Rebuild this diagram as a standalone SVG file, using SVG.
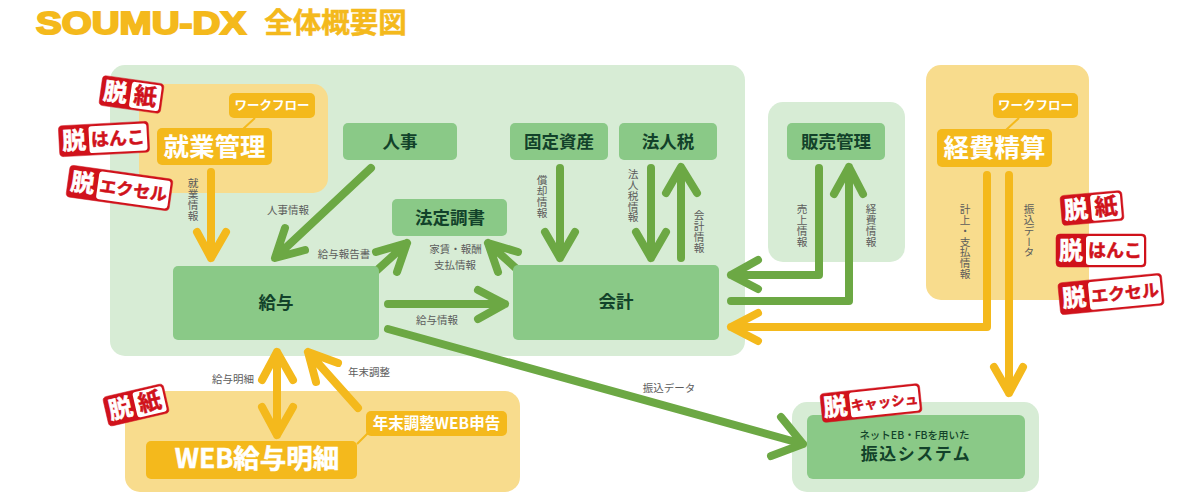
<svg xmlns="http://www.w3.org/2000/svg" width="1200" height="500" viewBox="0 0 1200 500">
<style>
text{font-family:"Noto Sans CJK JP","Liberation Sans",sans-serif;text-anchor:middle}
.pg{fill:#d7ecd5}.py{fill:#f8dc8d}.ng{fill:#8ac987}.ny{fill:#f4b91c}
.t{fill:#12422a;font-weight:700;font-size:17.5px}
.w{fill:#fff;font-weight:700}
.l{fill:#5c5c5c;font-size:10.5px}
.v{fill:#5c5c5c;font-size:10.7px;writing-mode:vertical-rl;text-anchor:start}
.g{fill:none;stroke:#6ca844;stroke-width:8;stroke-linecap:round;stroke-linejoin:round}
.y{fill:none;stroke:#f4b91c;stroke-width:8;stroke-linecap:round;stroke-linejoin:round}
.c{fill:none;stroke:#f4b91c;stroke-width:2}
.sr{fill:#d0121b;stroke:#d0121b;stroke-width:.5}.sw{fill:#fff}
.s1{fill:#fff;stroke:#fff;stroke-width:.6px;font-weight:700;font-size:24px}
.s2{fill:#d0121b;stroke:#d0121b;stroke-width:.5px;font-weight:700;font-size:23px}
.s3{fill:#d0121b;stroke:#d0121b;stroke-width:.5px;font-weight:700;font-size:18px}
.s4{fill:#d0121b;stroke:#d0121b;stroke-width:.5px;font-weight:700;font-size:17px}
.s5{fill:#d0121b;stroke:#d0121b;stroke-width:.4px;font-weight:700;font-size:13.500px}
</style>
<g id="title">
<text x="36" y="34" style="text-anchor:start;font-family:'Liberation Sans',sans-serif;font-weight:700;font-size:32px;stroke:#f4b91c;stroke-width:2px" fill="#f4b91c" textLength="210" lengthAdjust="spacingAndGlyphs">SOUMU-DX</text>
<text x="335.500" y="33" fill="#f4b91c" style="font-weight:700;font-size:28.500px;stroke:#f4b91c;stroke-width:.5px">全体概要図</text>
</g>
<g id="panels">
<rect class="pg" x="110" y="65" width="635" height="291" rx="15"/>
<rect class="py" x="139" y="84" width="189" height="109" rx="15"/>
<rect class="pg" x="768" y="102" width="137" height="160" rx="15"/>
<rect class="py" x="926" y="65" width="163" height="235" rx="15"/>
<rect class="py" x="125" y="391" width="395" height="101" rx="15"/>
<rect class="pg" x="792" y="402" width="247" height="90" rx="15"/>
</g>
<g id="connectors">
<path class="c" d="M255 118L243 129M1019 118L1006 130M357 444L368 433"/>
<path class="y" d="M211 172V258M197 232L211 258L226 232"/>
<path class="g" d="M371 168L277 256M285 228L275 258L305 250"/>
<path class="g" d="M375 272L407 243M376 252L407 243L397 272"/>
<path class="g" d="M519 271L488 243M518 252L488 243L498 272"/>
<path class="g" d="M388 304H505M478 290L505 304L478 319"/>
<path class="g" d="M560 168V258M545 232L560 258L575 232"/>
<path class="g" d="M651 168V258M636 232L651 258L666 232"/>
<path class="g" d="M681 258V168M666 193L681 167L697 193"/>
<path class="g" d="M819 168V275H731M758 260L731 275L758 289"/>
<path class="g" d="M731 301H849V167M834 194L849 167L863 194"/>
<path class="y" d="M987 175V327H731M758 313L731 327L758 341"/>
<path class="y" d="M1009 175V393M994 367L1009 393L1023 367"/>
<path class="g" d="M388 329L803 444M771 456L803 444L781 417"/>
<path class="y" d="M277 352V435M262 380L277 352L293 380M262 407L277 435L293 407"/>
<path class="y" d="M358 408L308 352M338 363L308 352L316 382"/>
</g>
<g id="n-shugyo"><rect class="ny" x="157" y="128" width="115" height="37" rx="5"/><text class="w" x="214.500" y="156" font-size="25.500">就業管理</text></g>
<g id="n-wf1"><rect class="ny" x="229" y="93" width="86" height="25" rx="5"/><text class="w" x="272" y="110" font-size="12.500">ワークフロー</text></g>
<g id="n-jinji"><rect class="ng" x="343" y="123" width="114" height="37" rx="5"/><text class="t" x="400" y="148">人事</text></g>
<g id="n-kotei"><rect class="ng" x="510" y="123" width="98" height="37" rx="5"/><text class="t" x="559" y="148">固定資産</text></g>
<g id="n-hojin"><rect class="ng" x="619" y="123" width="98" height="37" rx="5"/><text class="t" x="668" y="148">法人税</text></g>
<g id="n-hotei"><rect class="ng" x="392" y="199" width="115" height="37" rx="5"/><text class="t" x="450" y="224">法定調書</text></g>
<g id="n-kyuyo"><rect class="ng" x="173" y="266" width="206" height="74" rx="5"/><text class="t" x="276" y="309">給与</text></g>
<g id="n-kaikei"><rect class="ng" x="513" y="265" width="206" height="75" rx="5"/><text class="t" x="616" y="308">会計</text></g>
<g id="n-hanbai"><rect class="ng" x="787" y="123" width="98" height="37" rx="5"/><text class="t" x="836" y="148">販売管理</text></g>
<g id="n-wf2"><rect class="ny" x="993" y="93" width="85" height="25" rx="5"/><text class="w" x="1035.500" y="110" font-size="12.500">ワークフロー</text></g>
<g id="n-keihi"><rect class="ny" x="937" y="129" width="115" height="38" rx="5"/><text class="w" x="994.500" y="157" font-size="25.500">経費精算</text></g>
<g id="n-web"><rect class="ny" x="146" y="441" width="211" height="38" rx="5"/><text class="w" x="255" y="468" font-size="26.500" style="stroke:#fff;stroke-width:.5px" dx="2">WEB給与明細</text></g>
<g id="n-nenmatsu"><rect class="ny" x="366" y="411" width="141" height="25" rx="5"/><text class="w" x="436.500" y="429" font-size="15.500">年末調整WEB申告</text></g>
<g id="n-furikomi"><rect class="ng" x="807" y="415" width="218" height="64" rx="6"/><text x="914.500" y="439" fill="#12422a" font-size="10.500" font-weight="500">ネットEB・FBを用いた</text><text x="916" y="460" fill="#12422a" font-size="17px" font-weight="700" letter-spacing="1.500">振込システム</text></g>
<g id="labels">
<text class="v" x="193" y="178">就業情報</text>
<text class="l" x="288" y="214">人事情報</text>
<text class="l" x="344" y="258">給与報告書</text>
<text class="l" x="455.500" y="253">家賃・報酬</text>
<text class="l" x="455" y="269">支払情報</text>
<text class="l" x="437" y="324">給与情報</text>
<text class="l" x="233" y="383">給与明細</text>
<text class="l" x="369" y="376">年末調整</text>
<text class="l" x="669" y="392">振込データ</text>
<text class="v" x="542" y="175">償却情報</text>
<text class="v" x="633" y="169">法人税情報</text>
<text class="v" x="699" y="210">会計情報</text>
<text class="v" x="802" y="204">売上情報</text>
<text class="v" x="871" y="204">経費情報</text>
<text class="v" x="965" y="204">計上・支払情報</text>
<text class="v" x="1029" y="204">振込データ</text>
</g>
<g id="st1" transform="translate(131.500 94.500) rotate(8)"><rect class="sr" x="-31" y="-15" width="62" height="30" rx="4"/><rect class="sw" x="-1" y="-13" width="30" height="26" rx="3"/><text class="s1" x="-16" y="8.500">脱</text><text class="s2" x="14" y="8">紙</text></g>
<g id="st2" transform="translate(104 139) rotate(-3)"><rect class="sr" x="-45" y="-15.500" width="90" height="31" rx="4"/><rect class="sw" x="-15" y="-13.500" width="58" height="27" rx="3"/><text class="s1" x="-30" y="8.500">脱</text><text class="s3" x="14" y="6.500">はんこ</text></g>
<g id="st3" transform="translate(119.500 188) rotate(8)"><rect class="sr" x="-52" y="-16" width="104" height="32" rx="4"/><rect class="sw" x="-22" y="-14" width="72" height="28" rx="3"/><text class="s1" x="-37" y="8.500">脱</text><text class="s4" x="14" y="6.500">エクセル</text></g>
<g id="st4" transform="translate(1092 208) rotate(-5)"><rect class="sr" x="-31" y="-15" width="62" height="30" rx="4"/><rect class="sw" x="-1" y="-13" width="30" height="26" rx="3"/><text class="s1" x="-16" y="8.500">脱</text><text class="s2" x="14" y="8">紙</text></g>
<g id="st5" transform="translate(1101 250.500)"><rect class="sr" x="-45" y="-16.500" width="90" height="33" rx="4"/><rect class="sw" x="-15" y="-14.500" width="58" height="29" rx="3"/><text class="s1" x="-30" y="8.500">脱</text><text class="s3" x="14" y="6.500">はんこ</text></g>
<g id="st6" transform="translate(1111 294) rotate(-5.500)"><rect class="sr" x="-52" y="-16" width="104" height="32" rx="4"/><rect class="sw" x="-22" y="-14" width="72" height="28" rx="3"/><text class="s1" x="-37" y="8.500">脱</text><text class="s4" x="14" y="6.500">エクセル</text></g>
<g id="st7" transform="translate(136 405) rotate(-13)"><rect class="sr" x="-31" y="-15" width="62" height="30" rx="4"/><rect class="sw" x="-1" y="-13" width="30" height="26" rx="3"/><text class="s1" x="-16" y="8.500">脱</text><text class="s2" x="14" y="8">紙</text></g>
<g id="st8" transform="translate(871 403) rotate(-6)"><rect class="sr" x="-50" y="-14.500" width="100" height="29" rx="4"/><rect class="sw" x="-21" y="-12.500" width="69" height="25" rx="3"/><text class="s1" x="-36" y="8.500">脱</text><text class="s5" x="13.500" y="5.500">キャッシュ</text></g>
</svg>
